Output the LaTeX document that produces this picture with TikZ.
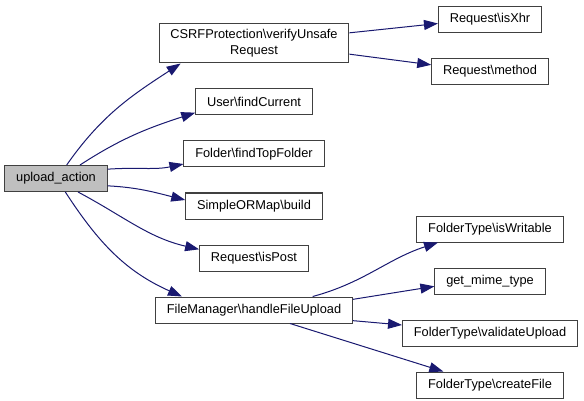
\documentclass[tikz,border=0pt]{standalone}
\usepackage{fontspec}
\setmainfont{Liberation Sans}
\usetikzlibrary{positioning,arrows.meta}
\definecolor{edgeblue}{HTML}{191970}
\definecolor{boxline}{HTML}{404040}

\begin{document}
\begin{tikzpicture}[x=0.75pt, y=0.75pt, ->, >={Triangle[length=10.5pt,width=7.5pt]}, node distance=18.75pt,
	fn/.style={rectangle, draw=boxline, fill=white, line width=0.75pt, minimum height=19.5pt, inner xsep=8.5pt, inner ysep=1pt, font=\fontsize{9.6}{12}\selectfont},
	root/.style={fn, fill=black!25},
	call/.style={draw=edgeblue, line width=0.75pt}]
	\useasboundingbox (0,0) rectangle (584,400);
	
	\node[root] (1) at (56,221.5)                     {upload\_action};
	\node[fn, minimum height=29.25pt, align=center] (2) at (254,356.5) {CSRFProtection\textbackslash verifyUnsafe\\Request};
	\node[fn] (3) [below=of 2]                        {User\textbackslash findCurrent};
	\node[fn] (4) [below=of 3]                        {Folder\textbackslash findTopFolder};
	\node[fn] (5) [below=of 4]                        {SimpleORMap\textbackslash build};
	\node[fn] (6) [below=of 5]                        {Request\textbackslash isPost};
	\node[fn] (7) [below=of 6]                        {FileManager\textbackslash handleFileUpload};
	\node[fn] (8) at (490,380.5)                      {Request\textbackslash isXhr};
	\node[fn] (9) [below=of 8]                        {Request\textbackslash method};
	\node[fn] (10) at (490,171)                       {FolderType\textbackslash isWritable};
	\node[fn] (11) [below=of 10]                      {get\_mime\_type};
	\node[fn] (12) [below=of 11]                      {FolderType\textbackslash validateUpload};
	\node[fn] (13) [below=of 12]                      {FolderType\textbackslash createFile};
	
	% calls of upload_action
	\path ([xshift=8pt]1.north)           edge [call,out=55,in=213]  ([xshift=-55pt]2.south)
	([xshift=18pt]1.north)                edge [call,out=33,in=198]  ([yshift=-8pt]3.west)
	([yshift=7pt]1.east)                  edge [call,out=4,in=192]   ([yshift=-7.5pt]4.west)
	([yshift=-5.5pt]1.east)               edge [call,out=-3,in=166]  ([yshift=4.5pt]5.west)
	([xshift=16.5pt]1.south)              edge [call,out=-28,in=167] ([yshift=6.5pt]6.west)
	([xshift=7pt]1.south)                 edge [call,out=-57,in=156] ([xshift=-54pt]7.north);
	
	% second level
	\path ([yshift=8pt]2.east)            edge [call]                ([yshift=-3pt]8.west)
	([yshift=-8pt]2.east)                 edge [call]                ([yshift=5pt]9.west)
	([xshift=44pt]7.north)                edge [call,out=15,in=198]  ([xshift=-39pt]10.south)
	([yshift=8pt]7.east)                  edge [call]                ([yshift=-4pt]11.west)
	([yshift=-8pt]7.east)                 edge [call]                ([yshift=6pt]12.west)
	([xshift=27pt]7.south)                edge [call]                ([xshift=-35pt]13.north);
	
\end{tikzpicture}
\end{document}
